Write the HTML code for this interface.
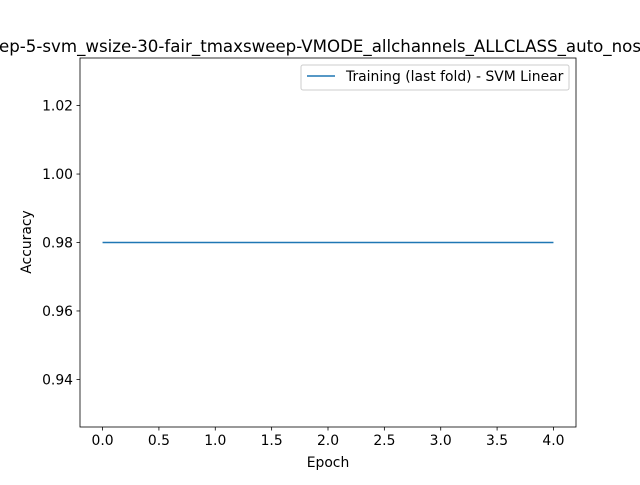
<!DOCTYPE html>
<html><head><meta charset="utf-8"><style>
body{margin:0;background:#fff}
svg text{font-family:"DejaVu Sans","Liberation Sans",sans-serif;fill:#000}
</style></head><body>
<svg width="640" height="480" xmlns="http://www.w3.org/2000/svg">
<rect width="640" height="480" fill="#fff"/>
<text x="-1" y="52" font-size="16.7" textLength="642" lengthAdjust="spacingAndGlyphs">ep-5-svm_wsize-30-fair_tmaxsweep-VMODE_allchannels_ALLCLASS_auto_nos</text>
<g id="xt"></g>
<g id="yt"></g>
<g id="series"></g>
<rect x="80" y="58" width="496" height="369" fill="none" stroke="#000" stroke-width="0.8"/>
<text x="328" y="467" font-size="13.9" text-anchor="middle">Epoch</text>
<text transform="translate(31,242) rotate(-90)" font-size="13.9" text-anchor="middle">Accuracy</text>
<g>
<rect x="301" y="65" width="268" height="25" rx="2" fill="#fff" stroke="#ccc" stroke-width="1"/>
<line x1="307" y1="76" x2="335" y2="76" stroke="#1f77b4" stroke-width="1.5"/>
<text x="346" y="81" font-size="13.9">Training (last fold) - SVM Linear</text>
</g>
</svg>
<script>
const epochs=[0,1,2,3,4];
const accuracy=[0.98,0.98,0.98,0.98,0.98];
const xTicks=[0,0.5,1,1.5,2,2.5,3,3.5,4];
const yTicks=[0.94,0.96,0.98,1.00,1.02];
const NS="http://www.w3.org/2000/svg";
const L=80,R=576,T=58,B=427;
const xmin=-0.2,xmax=4.2,ymin=0.9261,ymax=1.0339;
const sx=v=>L+(v-xmin)/(xmax-xmin)*(R-L);
const sy=v=>B-(v-ymin)/(ymax-ymin)*(B-T);
function mk(t,a,p){const e=document.createElementNS(NS,t);for(const k in a)e.setAttribute(k,a[k]);p.appendChild(e);return e;}
const xt=document.getElementById('xt'),yt=document.getElementById('yt');
xTicks.forEach(v=>{
 const l=mk('line',{x1:sx(v),x2:sx(v),y1:B,y2:B+3.5,stroke:'#000','stroke-width':0.8},xt);
 
 
 const t=mk('text',{x:sx(v),y:B+18,'font-size':13.9,'text-anchor':'middle'},xt);
 
 
 t.textContent=v.toFixed(1);
});
yTicks.forEach(v=>{
 const l=mk('line',{x1:L-3.5,x2:L,y1:sy(v),y2:sy(v),stroke:'#000','stroke-width':0.8},yt);
 
 
 const t=mk('text',{x:L-7,y:sy(v)+5,'font-size':13.9,'text-anchor':'end'},yt);
 
 
 t.textContent=v.toFixed(2);
});
const pts=epochs.map((e,i)=>sx(e)+','+sy(accuracy[i])).join(' ');
const pl=mk('polyline',{points:pts,fill:'none',stroke:'#1f77b4','stroke-width':1.5},document.getElementById('series'));


</script>
</body></html>
